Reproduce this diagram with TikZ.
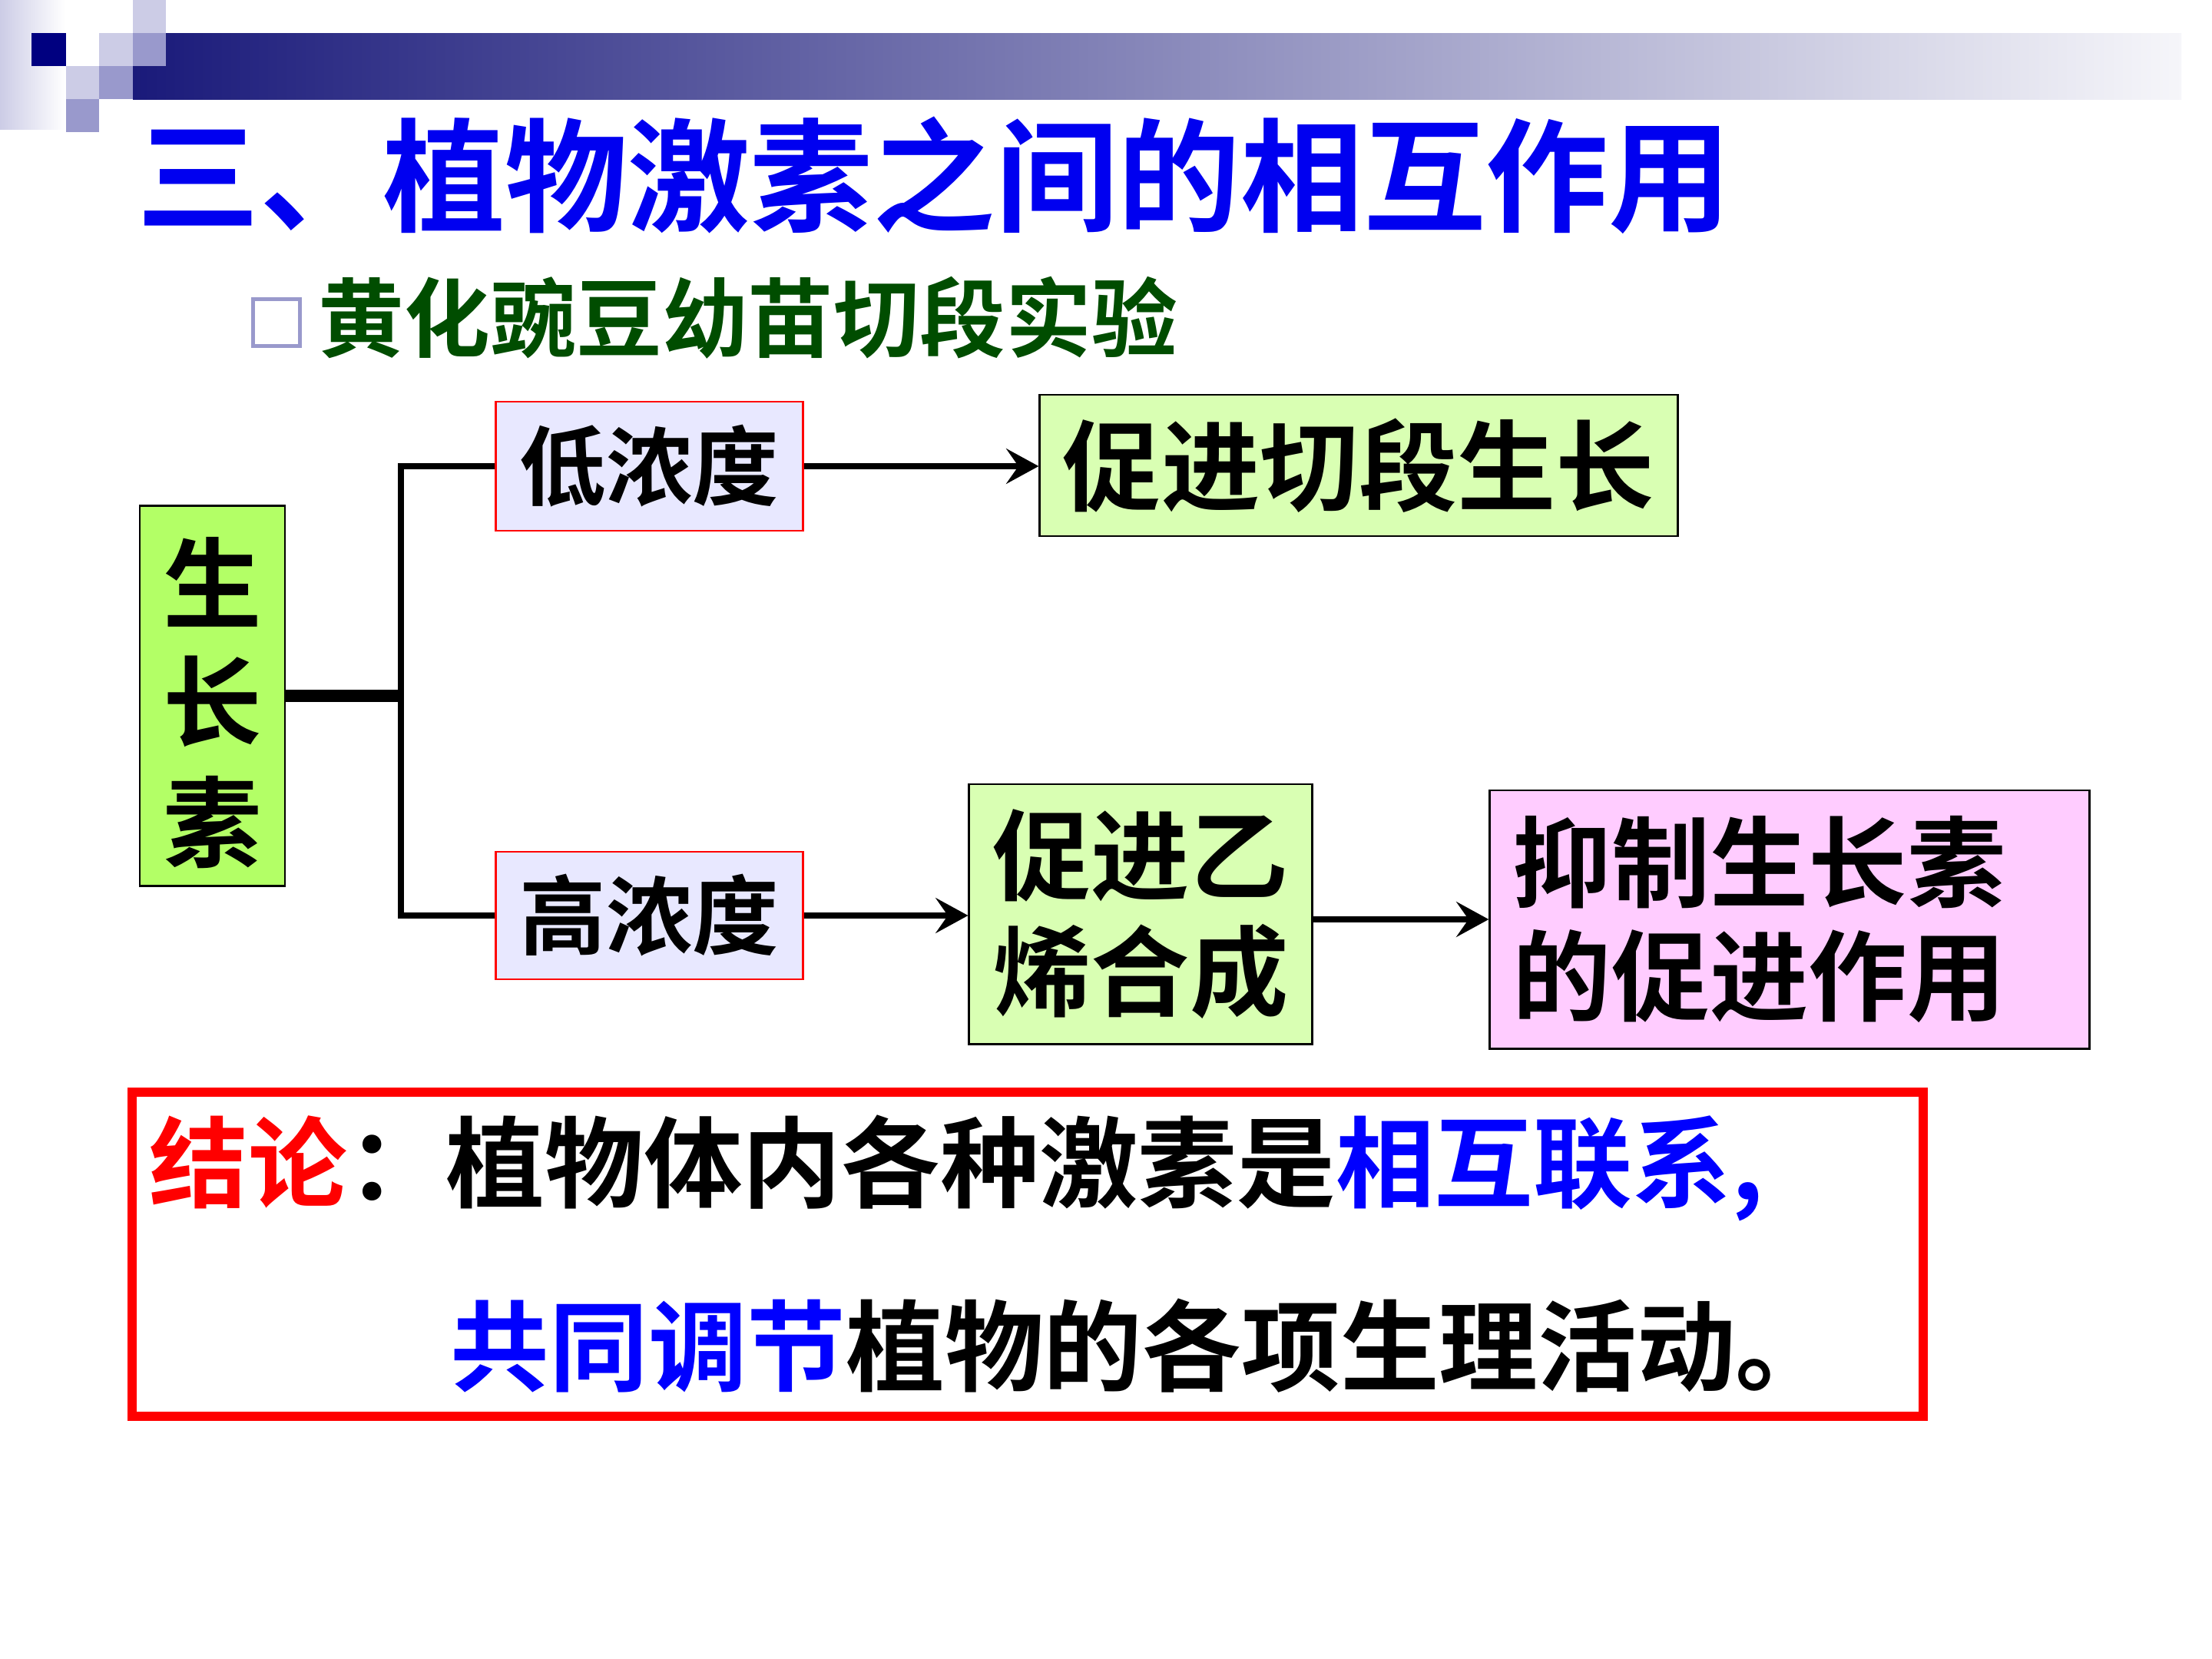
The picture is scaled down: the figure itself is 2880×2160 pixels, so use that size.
\documentclass[tikz,border=0pt]{standalone}
\usepackage{fontspec}
\setmainfont{Noto Sans CJK SC}[BoldFont={Noto Sans CJK SC Bold}]
\usetikzlibrary{arrows.meta}
\definecolor{navy}{RGB}{0,0,128}
\definecolor{lav}{RGB}{204,204,230}
\definecolor{midlav}{RGB}{153,153,204}
\definecolor{barL}{RGB}{26,26,122}
\definecolor{titleblue}{RGB}{0,0,240}
\definecolor{subgreen}{RGB}{0,77,0}
\definecolor{auxgreen}{RGB}{179,255,102}
\definecolor{palegreen}{RGB}{217,255,179}
\definecolor{lowfill}{RGB}{232,232,255}
\definecolor{pinkfill}{RGB}{255,204,255}
\definecolor{cblue}{RGB}{0,0,255}
\begin{document}
\begin{tikzpicture}[x=0.01cm,y=-0.01cm,
  box/.style={draw=black, line width=0.8pt, inner sep=0pt, align=center,
    font=\fontsize{36.5}{43}\selectfont\bfseries},
  concbox/.style={box, draw=red, fill=lowfill, font=\fontsize{32}{38}\selectfont\bfseries},
  link/.style={line width=2.3pt},
  arr/.style={line width=2.2pt, -{Stealth[length=12pt,width=13pt,inset=4.5pt]}},
  txt/.style={inner sep=0pt, anchor=west}
]
\useasboundingbox (0,0) rectangle (2880,2160);
\fill[white] (0,0) rectangle (2880,2160);

% top-left decoration
\shade[left color=lav, right color=white] (0,0) rectangle (85,168);
\shade[left color=barL, right color=white!96!barL] (173,43) rectangle (2840,129);
\fill[navy] (41,43) rectangle (86,86);
\fill[lav] (173,0) rectangle (216,43);
\fill[lav] (129,43) rectangle (173,86);
\fill[midlav] (173,43) rectangle (216,86);
\fill[lav] (86,86) rectangle (129,129);
\fill[midlav] (129,86) rectangle (173,129);
\fill[midlav] (86,129) rectangle (129,172);

% title and subtitle
\node[txt, text=titleblue, font=\fontsize{45.4}{54}\selectfont\bfseries] (title) at (178,228) {三、植物激素之间的相互作用};
\node[draw=midlav, line width=1.2pt, minimum size=0.61cm, inner sep=0pt] (bullet) at (360,420) {};
\node[txt, text=subgreen, font=\fontsize{31.8}{38}\selectfont\bfseries] (sub) at (414,414) {黄化豌豆幼苗切段实验};

% nodes
\node[box, fill=auxgreen, minimum width=1.89cm, minimum height=4.94cm,
  font=\fontsize{36.5}{44}\selectfont\bfseries] (aux) at (276.5,906) {\raisebox{-0.09cm}[\height][\depth]{\shortstack{生\\[0.27cm]长\\[0.27cm]素}}};
\node[concbox, minimum width=3.99cm, minimum height=1.68cm] (low) at (845.5,607) {低浓度};
\node[concbox, minimum width=3.99cm, minimum height=1.66cm] (high) at (845.5,1192) {高浓度};
\node[box, fill=palegreen, minimum width=8.30cm, minimum height=1.84cm] (grow) at (1769,606) {促进切段生长};
\node[box, fill=palegreen, minimum width=4.46cm, minimum height=3.38cm] (eth) at (1485,1190) {促进乙\\烯合成};
\node[box, fill=pinkfill, minimum width=7.80cm, minimum height=3.36cm, text width=7.2cm, align=left,
  font=\fontsize{36.5}{42}\selectfont\bfseries] (inhib) at (2330,1197) {抑制生长素\\的促进作用};

% connectors
\coordinate (j) at (522,906);
\draw[line width=4.6pt] (aux.east) -- (j);
\draw[link] (low.west) -| (j) |- (high.west);
\draw[arr] (low.east) -- (low.east -| grow.west);
\draw[arr] (high.east) -- (high.east -| eth.west);
\draw[arr] (eth.east |- inhib.west) -- (inhib.west);

% conclusion
\node[draw=red, line width=3.4pt, minimum width=23.30cm, minimum height=4.22cm, inner sep=0pt] (cbox) at (1338,1633) {};
\node[txt, font=\fontsize{36.6}{43}\selectfont\bfseries] (l1) at (194,1521)
  {\textcolor{red}{结论}：植物体内各种激素是\textcolor{cblue}{相互联系,}};
\node[txt, font=\fontsize{36.6}{43}\selectfont\bfseries] (l2) at (586,1752)
  {\textcolor{cblue}{共同调节}植物的各项生理活动。};
\end{tikzpicture}
\end{document}
